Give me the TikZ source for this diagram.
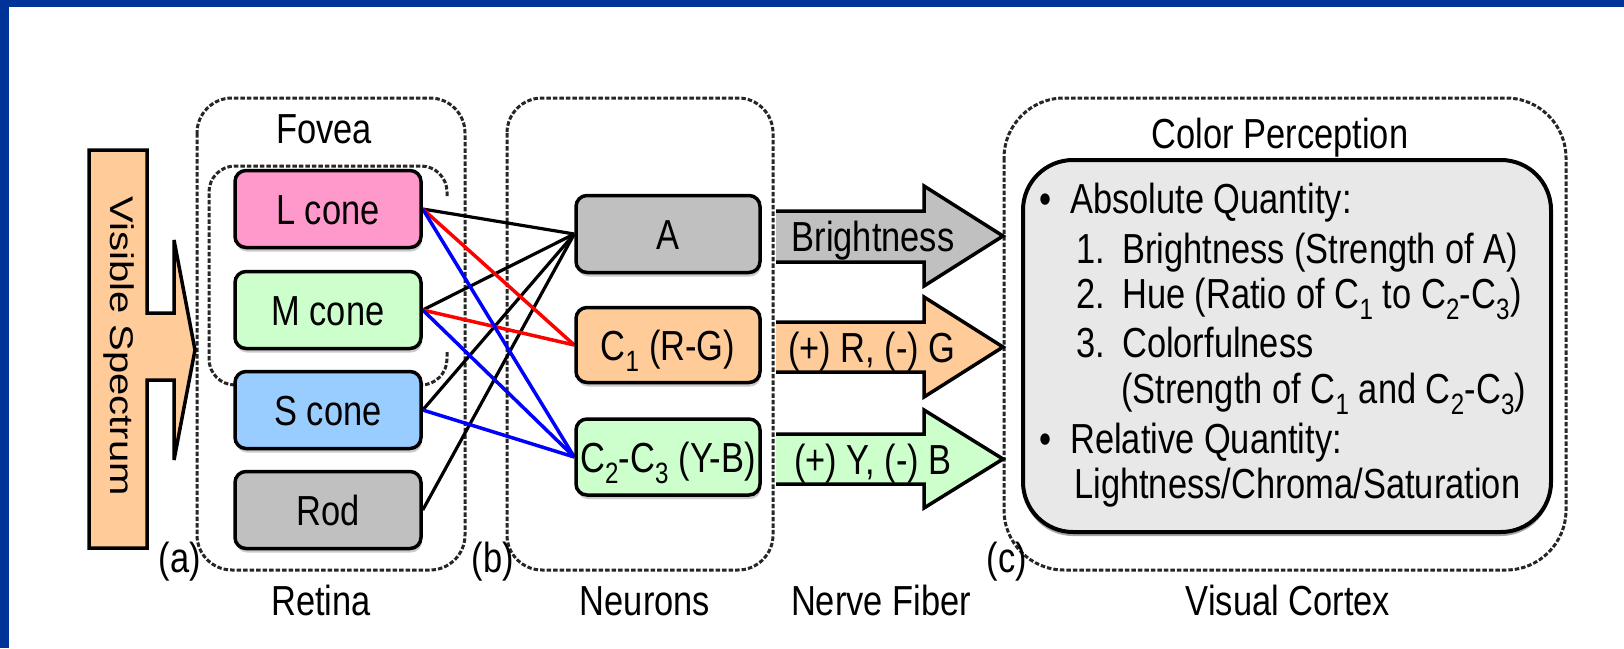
\documentclass[tikz,border=0pt]{standalone}
\usepackage{fontspec}
\setmainfont{Liberation Sans}
\usetikzlibrary{shadows}
\pgfdeclarelayer{bg}
\pgfsetlayers{bg,main}
\definecolor{frameblue}{RGB}{0,51,153}
\definecolor{lpink}{RGB}{255,153,204}
\definecolor{mgreen}{RGB}{204,255,204}
\definecolor{sblue}{RGB}{153,204,255}
\definecolor{rodgray}{RGB}{192,192,192}
\definecolor{peach}{RGB}{255,204,153}
\definecolor{cortexgray}{RGB}{232,232,232}
\newcommand{\sq}[1]{\scalebox{0.82}[1]{#1}}
\begin{document}
\begin{tikzpicture}[x=1pt,y=-1pt,
  every node/.style={font=\fontsize{42}{48}\selectfont, inner sep=0pt},
  dbox/.style={draw=black!85, line width=3pt, dash pattern=on 4.5pt off 2pt, rounded corners=35pt},
  cell/.style={draw=black, line width=3.5pt, rounded corners=11pt, minimum width=186pt,
    minimum height=77pt, text height=30pt, text depth=0pt,
    drop shadow={shadow xshift=1pt, shadow yshift=-4pt, fill=black!40}},
  shapeline/.style={draw=black, line width=3.5pt, line join=miter},
  conn/.style={draw=black, line width=3.2pt},
  redconn/.style={draw=red, line width=3.5pt},
  blueconn/.style={draw=blue, line width=3.5pt},
  label/.style={anchor=base}
]
\useasboundingbox (0,0) rectangle (1624,648);

% Visible spectrum arrow
\filldraw[fill=peach, shapeline] (89,150) -- (147,150) -- (147,313) -- (174,313) -- (174,240)
  -- (195,350) -- (174,460) -- (174,380) -- (147,380) -- (147,548) -- (89,548) -- cycle;
\node[rotate=-90, anchor=base, font=\fontsize{40}{46}\selectfont] (vs) at (110,346)
  {\scalebox{1}[0.82]{Visible Spectrum}};

% Cones
\node[cell, fill=lpink] (lcone) at (328,209) {\sq{L cone}};
\node[cell, fill=mgreen] (mcone) at (328,310) {\sq{M cone}};
\node[cell, fill=sblue] (scone) at (328,410) {\sq{S cone}};
\node[cell, fill=rodgray] (rod) at (328,510) {\sq{Rod}};

% Neurons
\node[cell, fill=rodgray, minimum width=184pt] (A) at (668,234) {\sq{A}};
\node[cell, fill=peach, minimum width=184pt, minimum height=75pt] (c1) at (668,345)
  {\sq{C\textsubscript{1} (R-G)}};
\node[cell, fill=mgreen, minimum width=184pt, minimum height=76pt] (c23) at (668,457)
  {\sq{C\textsubscript{2}-C\textsubscript{3} (Y-B)}};

% Nerve fiber arrows
\fill[rodgray] (776,211) -- (924,211) -- (924,186) -- (1003,236) -- (924,286) -- (924,262) -- (776,262) -- cycle;
\draw[shapeline] (776,211) -- (924,211) -- (924,186) -- (1003,236) -- (924,286) -- (924,262) -- (776,262);
\fill[peach] (776,322) -- (924,322) -- (924,297) -- (1003,347) -- (924,397) -- (924,372) -- (776,372) -- cycle;
\draw[shapeline] (776,322) -- (924,322) -- (924,297) -- (1003,347) -- (924,397) -- (924,372) -- (776,372);
\fill[mgreen] (776,434) -- (924,434) -- (924,410) -- (1003,459) -- (924,508) -- (924,484) -- (776,484) -- cycle;
\draw[shapeline] (776,434) -- (924,434) -- (924,410) -- (1003,459) -- (924,508) -- (924,484) -- (776,484);
\node[label] (brt) at (873,251) {\sq{Brightness}};
\node[label] (rg) at (872,362) {\sq{(+) R, (-) G}};
\node[label] (yb) at (873,474) {\sq{(+) Y, (-) B}};

% Cortex inner box
\node[draw=black, line width=4pt, fill=cortexgray, rounded corners=50pt,
  minimum width=528pt, minimum height=372pt,
  drop shadow={shadow xshift=0pt, shadow yshift=-4pt, fill=black!70}] (cbox) at (1287,346) {};
\node[label] (cp) at (1280,148) {\sq{Color Perception}};
\node[anchor=base west] (l1) at (1039,213) {\sq{•\hspace{0.55em}Absolute Quantity:}};
\node[anchor=base west] (l2) at (1076,263) {\sq{1.\hspace{0.5em}Brightness (Strength of A)}};
\node[anchor=base west] (l3) at (1076,308) {\sq{2.\hspace{0.5em}Hue (Ratio of C\textsubscript{1} to C\textsubscript{2}-C\textsubscript{3})}};
\node[anchor=base west] (l4) at (1076,357) {\sq{3.\hspace{0.5em}Colorfulness}};
\node[anchor=base west] (l5) at (1121,403) {\sq{(Strength of C\textsubscript{1} and C\textsubscript{2}-C\textsubscript{3})}};
\node[anchor=base west] (l6) at (1039,453) {\sq{•\hspace{0.55em}Relative Quantity:}};
\node[anchor=base west] (l7) at (1074,498) {\sq{Lightness/Chroma/Saturation}};

% Labels
\node[label] (fovea) at (324,143) {\sq{Fovea}};
\node[label] (la) at (180,572) {\sq{(a)}};
\node[label] (lb) at (493,572) {\sq{(b)}};
\node[label] (lc) at (1007,572) {\sq{(c)}};
\node[label] (retina) at (321,615) {\sq{Retina}};
\node[label] (neurons) at (645,615) {\sq{Neurons}};
\node[label] (nerve) at (881,615) {\sq{Nerve Fiber}};
\node[label] (cortex) at (1288,615) {\sq{Visual Cortex}};

\begin{pgfonlayer}{bg}
\fill[white] (0,0) rectangle (1624,648);
\fill[frameblue] (0,0) rectangle (1624,6.5);
\fill[frameblue] (0,0) rectangle (8.5,648);
\draw[dbox] (197,98) rectangle (465,570);
\draw[dbox] (507,98) rectangle (773,570);
\draw[dbox, rounded corners=60pt] (1004,98) rectangle (1566,570);
\draw[dbox, rounded corners=26pt] (447,196) -- (447,166) -- (209,166) -- (209,385) -- (447,385) -- (447,352);
% connectors
\draw[conn] (lcone.east) -- (A.west);
\draw[conn] (mcone.east) -- (A.west);
\draw[conn] (scone.east) -- (A.west);
\draw[conn] (rod.east) -- (A.west);
\draw[redconn] (lcone.east) -- (c1.west);
\draw[redconn] (mcone.east) -- (c1.west);
\draw[blueconn] (lcone.east) -- (c23.west);
\draw[blueconn] (mcone.east) -- (c23.west);
\draw[blueconn] (scone.east) -- (c23.west);
\end{pgfonlayer}
\end{tikzpicture}
\end{document}
